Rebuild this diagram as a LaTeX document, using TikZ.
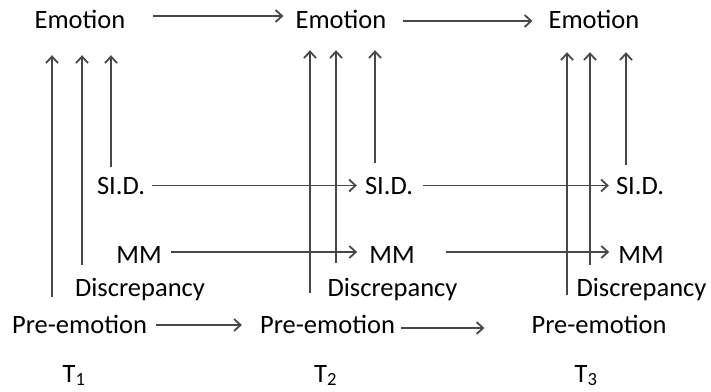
\documentclass[tikz,border=0pt]{standalone}
\usepackage{fontspec}
\setmainfont{Carlito}
\usetikzlibrary{arrows.meta}
\begin{document}
\begin{tikzpicture}[x=1pt,y=-1pt,
  lbl/.style={anchor=base,inner sep=0pt,text height=17pt,text depth=0pt,font=\fontsize{26.5}{30}\selectfont},
  arr/.style={draw=black!72,line width=1.6pt,-{Straight Barb[length=6.5pt,width=12pt,line width=1.8pt]}}]
\useasboundingbox (0,0) rectangle (711,391);
% Emotion row
\node[lbl] (e1) at (80,28) {Emotion};
\node[lbl] (e2) at (341,28) {Emotion};
\node[lbl] (e3) at (594,28) {Emotion};
% SI.D. row
\node[lbl] (s1) at (121,194) {SI.D.};
\node[lbl] (s2) at (389,194) {SI.D.};
\node[lbl] (s3) at (640,194) {SI.D.};
% MM row
\node[lbl] (m1) at (139,263) {MM};
\node[lbl] (m2) at (392,263) {MM};
\node[lbl] (m3) at (641,263) {MM};
% Discrepancy row
\node[lbl] (d1) at (140,296) {Discrepancy};
\node[lbl] (d2) at (392.5,296) {Discrepancy};
\node[lbl] (d3) at (641.5,296) {Discrepancy};
% Pre-emotion row
\node[lbl] (p1) at (79.5,333) {Pre-emotion};
\node[lbl] (p2) at (327.5,333) {Pre-emotion};
\node[lbl] (p3) at (599,333) {Pre-emotion};
% Time labels
\node[lbl] (t1) at (74,382) {T\textsubscript{1}};
\node[lbl] (t2) at (325.5,382) {T\textsubscript{2}};
\node[lbl] (t3) at (586,382) {T\textsubscript{3}};
% horizontal arrows
\draw[arr] ([xshift=27pt,yshift=3.5pt]e1.east) -- ([xshift=-12pt,yshift=3.5pt]e2.west);
\draw[arr] ([xshift=16pt,yshift=-1.5pt]e2.east) -- ([xshift=-16pt,yshift=-1.5pt]e3.west);
\draw[arr] ([xshift=7pt]s1.east) -- ([xshift=-8pt]s2.west);
\draw[arr] ([xshift=10pt]s2.east) -- ([xshift=-7pt]s3.west);
\draw[arr] ([xshift=9pt,yshift=2.5pt]m1.east) -- ([xshift=-12pt,yshift=2.5pt]m2.west);
\draw[arr] ([xshift=31pt,yshift=2.5pt]m2.east) -- ([xshift=-9pt,yshift=2.5pt]m3.west);
\draw[arr] ([xshift=9pt,yshift=-0.5pt]p1.east) -- ([xshift=-18pt,yshift=-0.5pt]p2.west);
\draw[arr] ([xshift=6pt,yshift=-3.5pt]p2.east) -- ([xshift=-47pt,yshift=-3.5pt]p3.west);
% vertical arrow start points
\coordinate (a11) at (52,297);
\coordinate (a12) at (82,265);
\coordinate (a13) at (111,167);
\coordinate (a21) at (310,293);
\coordinate (a22) at (336,263);
\coordinate (a23) at (375,163);
\coordinate (a31) at (567,295);
\coordinate (a32) at (590,265);
\coordinate (a33) at (626,165);
% vertical arrows
\draw[arr] (a11) -- ([yshift=-27pt]e1.south -| a11);
\draw[arr] (a12) -- ([yshift=-27pt]e1.south -| a12);
\draw[arr] (a13) -- ([yshift=-27pt]e1.south -| a13);
\draw[arr] (a21) -- ([yshift=-22pt]e2.south -| a21);
\draw[arr] (a22) -- ([yshift=-22pt]e2.south -| a22);
\draw[arr] (a23) -- ([yshift=-22pt]e2.south -| a23);
\draw[arr] (a31) -- ([yshift=-24pt]e3.south -| a31);
\draw[arr] (a32) -- ([yshift=-24pt]e3.south -| a32);
\draw[arr] (a33) -- ([yshift=-24pt]e3.south -| a33);
\end{tikzpicture}
\end{document}
